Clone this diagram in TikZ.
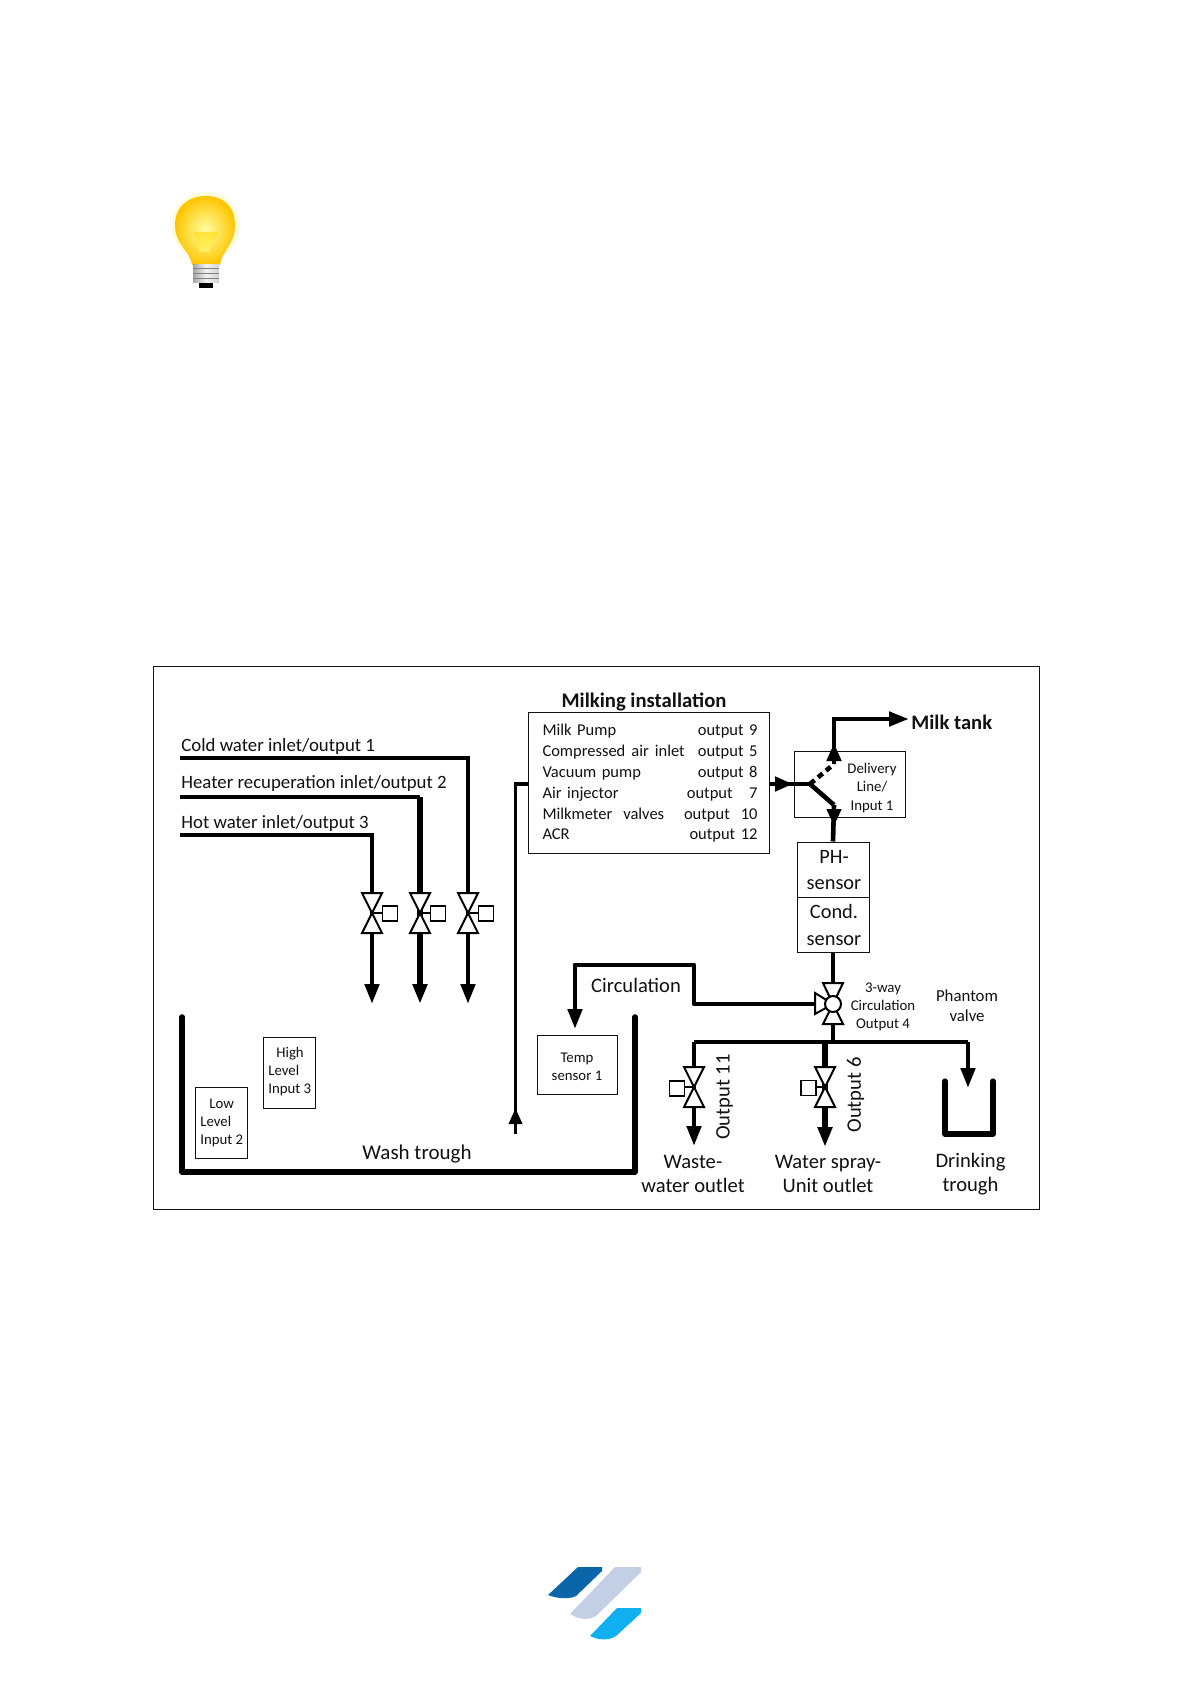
\documentclass[tikz,border=0pt]{standalone}
\usepackage{fontspec}
\setmainfont{Carlito}
\usetikzlibrary{arrows.meta,calc}
\definecolor{ink}{HTML}{111111}
\definecolor{logoA}{HTML}{0A66A8}
\definecolor{logoB}{HTML}{C3CFE4}
\definecolor{logoC}{HTML}{10B0F0}
\newcommand{\fsA}{\fontsize{9.4}{11}\selectfont}
\newcommand{\fsB}{\fontsize{8.25}{10.4}\selectfont}
\newcommand{\fsC}{\fontsize{7.4}{9}\selectfont}
\newcommand{\fsD}{\fontsize{10.3}{12}\selectfont}
\tikzset{
  x=0.5pt,y=-0.5pt,
  lbl/.style={inner sep=0pt,text=ink,font=\fsA},
  lblc/.style={lbl,align=center},
  smallbl/.style={inner sep=0pt,text=ink,font=\fsC,align=center},
  box/.style={draw=ink,line width=0.5pt,fill=white,inner sep=0pt},
  pipe/.style={draw=black,line width=2.3pt,line join=miter},
  thinpipe/.style={draw=black,line width=1.7pt},
  fatpipe/.style={draw=black,line width=2.7pt},
  tip/.style={-{Triangle[length=10pt,width=7pt]}},
  gateact/.pic={
    \draw[black,line width=1pt,fill=white] (-10,-20) -- (10,-20) -- (-10,20) -- (10,20) -- cycle;
    \draw[black,line width=0.6pt] (0,0) -- (#1,0);
  },
  actbox/.style={draw=black,line width=0.9pt,fill=white,inner sep=0pt,minimum width=7.5pt,minimum height=7.5pt},
}
\begin{document}
\begin{tikzpicture}
\useasboundingbox (0,0) rectangle (1191,1684);
\fill[white] (0,0) rectangle (1191,1684);

% --- bulb
\fill[yellow!15] (206,226) ellipse [x radius=34,y radius=34];
\shade[inner color=yellow!35!white,outer color=orange!45!yellow]
  (192,265) .. controls (190,250) and (175,245) .. (175,225)
  .. controls (175,206) and (189,196) .. (206,196)
  .. controls (223,196) and (235,206) .. (235,225)
  .. controls (235,245) and (222,250) .. (220,265) -- cycle;
\shade[top color=yellow!70!orange,bottom color=yellow!50!white,opacity=.6]
  (193,232) -- (218,232) -- (209,252) -- (200,252) -- cycle;
\shade[top color=gray!70,bottom color=gray!35,middle color=gray!10,shading angle=90]
  (193,265) rectangle (219,283);
\foreach \ry in {269,274,279}{\draw[gray,line width=0.5pt] (193,\ry) -- (219,\ry);}
\fill[black] (199,283) rectangle (213,288);

% --- frame
\node[draw=ink,line width=0.5pt,inner sep=0pt,minimum width=443pt,minimum height=271.5pt] (frame) at (596.5,937.5) {};

% --- inlet pipes
\coordinate (coldS) at (180,758);
\coordinate (heatS) at (180,797);
\coordinate (hotS)  at (180,835);
\coordinate (coldE) at (468,1004);
\coordinate (heatE) at (420,1004);
\coordinate (hotE)  at (372,1004);
\coordinate (heatC) at (420,797);
\coordinate (coldV) at (468,913);
\coordinate (heatV) at (420,913);
\coordinate (hotV)  at (372,913);
\draw[pipe,tip] (coldS) -| (coldE);
\draw[pipe] (heatS) -- (heatC);
\draw[fatpipe,tip] (heatC) -- (heatE);
\draw[pipe,tip] (hotS) -| (hotE);
\foreach \v in {coldV,heatV,hotV}{
  \path (\v) pic {gateact=14};
}
\node[actbox] (coldA) at (486,913.5) {};
\node[actbox] (heatA) at (438,913.5) {};
\node[actbox] (hotA)  at (390,913.5) {};

\node[lbl,anchor=west] (coldT) at (181,746.5) {Cold water inlet/output 1};
\node[lbl,anchor=west] (heatT) at (181,783) {Heater recuperation inlet/output 2};
\node[lbl,anchor=west] (hotT)  at (181,823) {Hot water inlet/output 3};

% --- milking box
\node[lbl,font=\fontsize{10.35}{12}\selectfont\bfseries] (milkT) at (644,702) {Milking installation};
\node[box,minimum width=120.5pt,minimum height=70.5pt] (milk) at (648.5,782.5) {};
\node[inner sep=0pt,text width=107.5pt,align=left,text=ink,font=\fsB] (milkL) at (650,783.5) {%
Milk Pump\hfill output 9\\
Compressed\hspace{3pt}air\hspace{3pt}inlet\hfill output\ 5\\
Vacuum pump\hfill output 8\\
Air injector\hfill output\ \ \ 7\\
Milkmeter\ \ valves\hfill output\ \ 10\\
ACR\hfill output 12};

% --- wash loop pipe
\coordinate (loopTop) at (515.5,784);
\coordinate (loopEnd) at (515.5,1134);
\coordinate (loopTip) at (515.5,1108);
\coordinate (milkW) at (528,784);
\draw[thinpipe] (milkW) -- (loopTop) -- (loopEnd);
\draw[thinpipe,-{Triangle[length=8pt,width=6.5pt]}] (515.5,1124) -- (loopTip);

% --- delivery line
\node[box,minimum width=55.5pt,minimum height=33pt] (deliv) at (850,784) {};
\node[smallbl] (delivT) at (872,788) {Delivery\\Line/\\[0.2pt]Input 1};
\coordinate (milkE) at (770,784);
\coordinate (junc) at (810,784);
\coordinate (branchUp) at (834,764);
\coordinate (branchDn) at (834,805);
\coordinate (tankTurn) at (834,719);
\coordinate (tankTip) at (909,719);
\draw[pipe] (milkE) -- (junc);
\draw[pipe,-{Triangle[length=9pt,width=7pt]}] (milkE) -- (793,784);
\draw[pipe] (junc) -- (branchDn);
\draw[pipe,dash pattern=on 3pt off 2.2pt] (junc) -- (branchUp);
\draw[pipe,tip] (branchUp) -- (tankTurn) -- (tankTip);
\draw[pipe,-{Triangle[length=9pt,width=7pt]}] (834,760) -- (834,743);
\node[lbl,font=\fontsize{10.3}{12}\selectfont\bfseries,anchor=west] (tankT) at (911,722) {Milk tank};

% --- sensors
\node[box,minimum width=36pt,minimum height=27.5pt] (ph) at (833,869.5) {};
\node[box,minimum width=36pt,minimum height=27.5pt] (cond) at (833,924.5) {};
\draw[pipe] (branchDn) -- (ph.north);
\draw[pipe,-{Triangle[length=8.5pt,width=7pt]}] (834,809) -- (834,826);
\node[lblc,font=\fontsize{10.2}{11}\selectfont,inner sep=0pt] (phT) at (834,870) {PH-\\[2.2pt]sensor};
\node[lblc,font=\fontsize{10.2}{11}\selectfont,inner sep=0pt] (condT) at (834,925) {Cond.\\[2.2pt]sensor};

% --- three way valve
\coordinate (v3) at (833,1004);
\coordinate (manifold) at (833,1042);
\coordinate (circA) at (575,965);
\coordinate (circB) at (694,965);
\coordinate (circC) at (694,1004);
\coordinate (circTip) at (575,1029);
\draw[thinpipe] (cond.south) -- (v3);
\draw[thinpipe] (v3) -- (manifold);
\draw[pipe,line join=round,line cap=round] (v3) -- (circC) -- (circB) -- (circA);
\draw[pipe,tip] (circA) -- (circTip);
\draw[black,line width=1pt,fill=white] (v3) -- (823,983) -- (843,983) -- cycle;
\draw[black,line width=1pt,fill=white] (v3) -- (823,1024) -- (843,1024) -- cycle;
\draw[black,line width=1pt,fill=white] (v3) -- (815,993) -- (815,1014) -- cycle;
\node[circle,draw=black,line width=1pt,fill=white,inner sep=0pt,minimum size=8pt] (v3c) at (v3) {};
\node[smallbl] (v3T) at (883,1006.5) {3-way\\Circulation\\Output 4};
\node[lblc,font=\fontsize{8.4}{10}\selectfont] (phantom) at (967,1005.5) {Phantom\\valve};
\node[lblc,font=\fsD] (circT) at (636,985) {Circulation};

% --- manifold
\coordinate (manL) at (694,1042);
\coordinate (manM) at (825,1042);
\coordinate (manR) at (968,1042);
\coordinate (wasteV) at (694,1087);
\coordinate (sprayV) at (825,1087);
\coordinate (wasteE) at (694,1146);
\coordinate (sprayE) at (825,1147);
\coordinate (drinkE) at (968,1088);
\draw[pipe] (manL) -- (manR);
\draw[pipe,tip] (manL) -- (wasteE);
\draw[fatpipe,tip] (manM) -- (sprayE);
\draw[pipe,tip] (manR) -- (drinkE);
\path (wasteV) pic {gateact=-14};
\path (sprayV) pic {gateact=-14};
\node[actbox] (wasteA) at (677,1088.5) {};
\node[actbox] (sprayA) at (808.5,1088) {};
\node[lbl,font=\fsD,rotate=90] (out11) at (724.5,1097) {Output 11};
\node[lbl,font=\fsD,rotate=90] (out6) at (855.5,1095) {Output 6};
\node[lblc,font=\fsD] (wasteT) at (693,1174) {Waste-\\water outlet};
\node[lblc,font=\fsD] (sprayT) at (828,1174) {Water spray-\\Unit outlet};
\node[lblc,font=\fsD] (drinkT) at (970.5,1174) {Drinking\\trough};

% --- drinking trough
\coordinate (dA) at (945,1081);
\coordinate (dB) at (945,1134);
\coordinate (dC) at (993,1134);
\coordinate (dD) at (993,1081);
\draw[black,line width=2.6pt,line cap=round,line join=round] (dA) -- (dB) -- (dC) -- (dD);

% --- wash trough
\coordinate (wA) at (182,1017);
\coordinate (wB) at (182,1172);
\coordinate (wC) at (635,1172);
\coordinate (wD) at (635,1017);
\draw[black,line width=2.8pt,line cap=round,line join=round] (wA) -- (wB) -- (wC) -- (wD);
\node[lbl,font=\fontsize{10.5}{12}\selectfont] (washT) at (417,1154.5) {Wash trough};

\node[box,minimum width=26pt,minimum height=35.5pt] (low) at (221.5,1122.5) {};
\node[box,minimum width=26pt,minimum height=35.5pt] (high) at (289.5,1072.5) {};
\node[box,minimum width=40pt,minimum height=29.5pt] (temp) at (577.5,1064.5) {};
\node[smallbl] (tempT) at (577,1066.5) {Temp\\sensor 1};
\node[smallbl,align=left,anchor=west] (lowT) at (200,1123) {\hspace*{4.5pt}Low\\Level\\Input 2};
\node[smallbl,align=left,anchor=west] (highT) at (268,1072) {\hspace*{4pt}High\\Level\\Input 3};

% --- logo
\fill[logoA] (578,1567) -- (602,1567) -- (602,1571) -- (576,1596) .. controls (568,1600) and (556,1598) .. (548,1595) -- cycle;
\fill[logoB] (615,1567) -- (641,1567) -- (641,1572) -- (596,1616) .. controls (588,1621) and (578,1619) .. (570,1614) -- cycle;
\fill[logoC] (617,1608) -- (641,1608) -- (641,1613) -- (616,1636) .. controls (608,1641) and (598,1640) .. (590,1636) -- cycle;
\end{tikzpicture}
\end{document}
